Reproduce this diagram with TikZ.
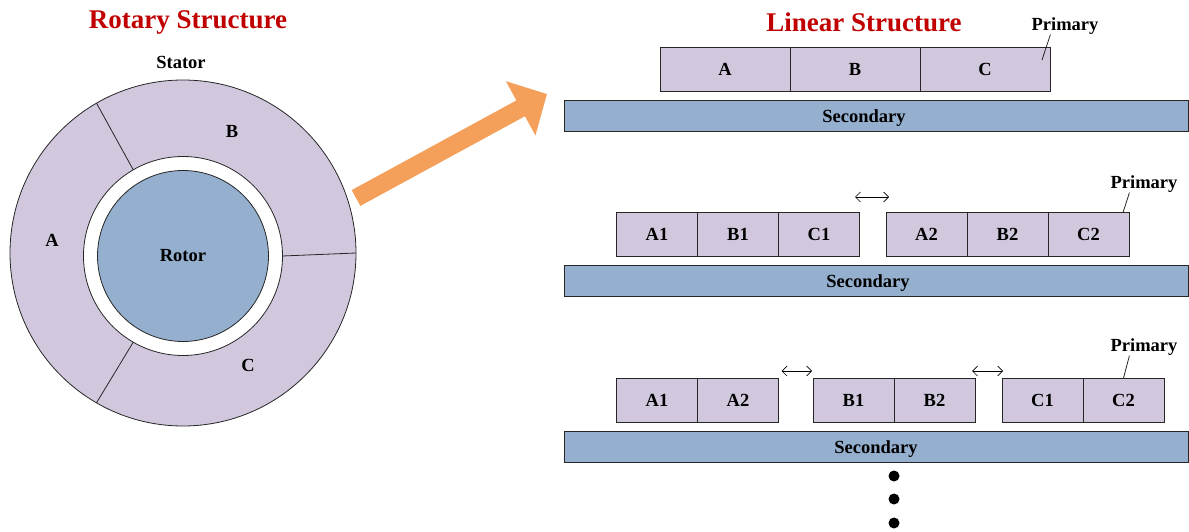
\documentclass[tikz,border=0pt]{standalone}
\usepackage{fontspec}
\setmainfont{Liberation Serif}
\usetikzlibrary{arrows.meta,positioning,calc}
\definecolor{statorfill}{HTML}{D1C8DE}
\definecolor{rotorfill}{HTML}{95AFCE}
\definecolor{arrowfill}{HTML}{F5A05A}
\definecolor{titlered}{HTML}{C00000}
\newcommand{\labelfont}{\fontsize{18.5}{22}\selectfont\bfseries}
\newcommand{\titlefont}{\fontsize{27}{32}\selectfont\bfseries}

\begin{document}
\begin{tikzpicture}[x=1pt, y=-1pt,
  ln/.style={line width=0.8pt, draw=black!85},
  seg/.style={ln, fill=statorfill, minimum width=#1, minimum height=44pt,
              inner sep=0pt, outer sep=0pt, font=\labelfont},
  seg/.default=81pt,
  sec/.style={ln, fill=rotorfill, minimum width=624pt, minimum height=31pt,
              inner sep=0pt, outer sep=0pt},
  ring/.style={ln, circle, inner sep=0pt, outer sep=0pt, minimum size=#1},
  lab/.style={font=\labelfont, inner sep=0pt},
  seclab/.style={lab, text depth=0pt},
  ttl/.style={font=\titlefont, text=titlered, inner sep=0pt},
  gapar/.style={{Straight Barb[length=5pt,width=10pt]}-{Straight Barb[length=5pt,width=10pt]}, line width=0.7pt},
  bigar/.style={-{Triangle[length=30pt,width=60pt]}, line width=18pt, draw=arrowfill},
  dot/.style={circle, fill=black, inner sep=0pt, minimum size=11pt}]
\useasboundingbox (0,0) rectangle (1189,532);
\node[ttl] (rtitle) at (188,22) {Rotary Structure};
\node[lab] (stator) at (181,62) {Stator};
\node[ring=346pt, fill=statorfill] (outer) at (183,253) {};
\node[ring=199pt, fill=white] (airgap) at (183,256) {};
\node[ring=171pt, fill=rotorfill, font=\labelfont] (rotor) at (183,256) {Rotor};
\draw[ln] (airgap.0) -- (outer.0);
\draw[ln] (airgap.120) -- (outer.120);
\draw[ln] (airgap.240) -- (outer.240);
\node[lab] (pa) at (52,240) {A};
\node[lab] (pb) at (232,131) {B};
\node[lab] (pc) at (248,365) {C};
\coordinate (tail) at (356,198);
\coordinate (tip) at (547,94);
\draw[bigar] (tail) -- (tip);
\node[ttl] (ltitle) at (864,22) {Linear Structure};
\node[seg=130pt] (r1a) at (725,69) {A};
\node[seg=130pt, right=0pt of r1a] (r1b) {B};
\node[seg=130pt, right=0pt of r1b] (r1c) {C};
\node[sec, label={[seclab, xshift=-12pt, yshift=-1pt]center:Secondary}] (sec1) at (876,115.5) {};
\node[lab] (prim1) at (1065,26) {Primary};
\draw[ln] ([xshift=19pt]prim1.south west) -- ([shift={(-8,13)}]r1c.north east);
\node[seg] (r2a1) at (657,234.5) {A1};
\node[seg, right=0pt of r2a1] (r2b1) {B1};
\node[seg, right=0pt of r2b1] (r2c1) {C1};
\node[seg] (r2a2) at (926.5,234.5) {A2};
\node[seg, right=0pt of r2a2] (r2b2) {B2};
\node[seg, right=0pt of r2b2] (r2c2) {C2};
\node[sec, label={[seclab, xshift=-8pt, yshift=-1pt]center:Secondary}] (sec2) at (876,280.5) {};
\node[lab] (prim2) at (1144,184) {Primary};
\draw[ln] ([xshift=19pt]prim2.south west) -- ([xshift=-6pt]r2c2.north east);
\draw[gapar] ([shift={(-4.5,-15.5)}]r2c1.north east) -- ([shift={(3,-15.5)}]r2a2.north west);
\node[seg] (r3a1) at (657,400) {A1};
\node[seg, right=0pt of r3a1] (r3a2) {A2};
\node[seg] (r3b1) at (853.5,400) {B1};
\node[seg, right=0pt of r3b1] (r3b2) {B2};
\node[seg] (r3c1) at (1042.5,400) {C1};
\node[seg, right=0pt of r3c1] (r3c2) {C2};
\node[sec, label={[seclab, yshift=-1pt]center:Secondary}] (sec3) at (876,446.5) {};
\node[lab] (prim3) at (1144,347) {Primary};
\draw[ln] ([xshift=19pt]prim3.south west) -- (r3c2.north);
\draw[gapar] ([shift={(3,-7)}]r3a2.north east) -- ([shift={(-1,-7)}]r3b1.north west);
\draw[gapar] ([shift={(-3,-7)}]r3b2.north east) -- ([shift={(1,-7)}]r3c1.north west);
\foreach \y [count=\i] in {476,499,523}
  \node[dot] (dot\i) at (894,\y) {};
\end{tikzpicture}
\end{document}
